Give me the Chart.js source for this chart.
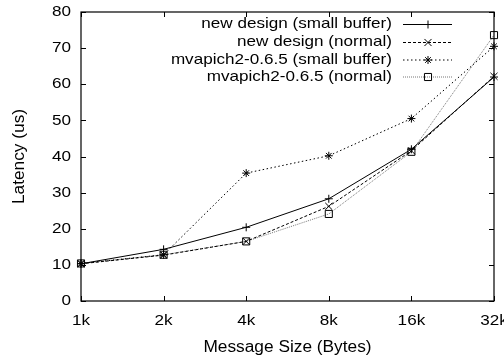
<!DOCTYPE html>
<html>
<head>
<meta charset="utf-8">
<script src="https://cdn.jsdelivr.net/npm/chart.js@4/dist/chart.umd.min.js"></script>
<style>
  html, body { margin: 0; padding: 0; background: #fff; }
  #wrap { width: 504px; height: 357px; }
</style>
</head>
<body>
<div id="wrap"><canvas id="c" width="504" height="357"></canvas></div>
<script>
// Message sizes on the x axis
const categories = ['1k', '2k', '4k', '8k', '16k', '32k'];
// Latency in microseconds for each configuration
const newSmall  = [10.3, 14.3, 20.4, 28.3, 42.0, 62.0];
const newNormal = [10.3, 12.7, 16.5, 26.2, 41.6, 62.2];
const mvaSmall  = [10.4, 12.8, 35.4, 40.2, 50.5, 70.5];
const mvaNormal = [10.4, 12.8, 16.5, 24.1, 41.3, 73.6];
const seriesNames = [
  'new design (small buffer)',
  'new design (normal)',
  'mvapich2-0.6.5 (small buffer)',
  'mvapich2-0.6.5 (normal)'
];
const yTicks = [0, 10, 20, 30, 40, 50, 60, 70, 80];
const xTitle = 'Message Size (Bytes)';
const yTitle = 'Latency (us)';

const FONT = '"Liberation Sans", Arial, Helvetica, sans-serif';

// Draws horizontally widened text, as in the original postscript output
function wideText(ctx, text, x, y, size, sx, align, baseline) {
  ctx.save();
  ctx.font = size + 'px ' + FONT;
  ctx.textBaseline = baseline;
  const w = ctx.measureText(text).width * sx;
  let left = x;
  if (align === 'right') left = x - w;
  else if (align === 'center') left = x - w / 2;
  ctx.translate(left, y);
  ctx.scale(sx, 1);
  ctx.textAlign = 'left';
  ctx.fillStyle = '#000';
  ctx.fillText(text, 0, 0);
  ctx.restore();
}

// Frame, inward ticks, labels, titles and key
const frame = {
  id: 'frame',
  afterDatasetsDraw(chart) {
    const ctx = chart.ctx;
    const a = chart.chartArea;
    const xs = chart.scales.x, ys = chart.scales.y;
    const tl = 5;
    ctx.save();
    ctx.strokeStyle = '#000';
    ctx.lineWidth = 1.2;
    ctx.setLineDash([]);
    ctx.strokeRect(a.left, a.top, a.right - a.left, a.bottom - a.top);
    ctx.lineWidth = 1;
    ctx.beginPath();
    categories.forEach((c, i) => {
      const px = Math.round(xs.getPixelForValue(i)) + 0.5;
      ctx.moveTo(px, a.bottom); ctx.lineTo(px, a.bottom - tl);
      ctx.moveTo(px, a.top); ctx.lineTo(px, a.top + tl);
    });
    yTicks.forEach(v => {
      const py = Math.round(ys.getPixelForValue(v)) + 0.5;
      ctx.moveTo(a.left, py); ctx.lineTo(a.left + tl, py);
      ctx.moveTo(a.right, py); ctx.lineTo(a.right - tl, py);
    });
    ctx.stroke();
    ctx.restore();

    yTicks.forEach(v => {
      wideText(ctx, String(v), a.left - 10, ys.getPixelForValue(v), 15, 1.14, 'right', 'middle');
    });
    categories.forEach((c, i) => {
      wideText(ctx, c, xs.getPixelForValue(i), a.bottom + 20, 15, 1.14, 'center', 'middle');
    });
    wideText(ctx, xTitle, (a.left + a.right) / 2, 351.5, 16, 1.08, 'center', 'alphabetic');
    ctx.save();
    ctx.translate(20, (a.top + a.bottom) / 2);
    ctx.rotate(-Math.PI / 2);
    wideText(ctx, yTitle, 0, 0, 16, 1.08, 'center', 'middle');
    ctx.restore();

    // key: text on the left, line sample with marker on the right
    const rows = [24, 42, 59.5, 76.5];
    chart.data.datasets.forEach((ds, i) => {
      const y = rows[i];
      wideText(ctx, ds.label, 392, y, 15, 1.14, 'right', 'middle');
      ctx.save();
      ctx.strokeStyle = ds.borderColor;
      ctx.lineWidth = ds.borderWidth;
      ctx.setLineDash(ds.borderDash || []);
      ctx.beginPath();
      ctx.moveTo(403, y + 0.5); ctx.lineTo(452, y + 0.5);
      ctx.stroke();
      ctx.setLineDash([]);
      ctx.strokeStyle = '#000';
      ctx.fillStyle = 'rgba(0,0,0,0)';
      ctx.lineWidth = 1;
      Chart.helpers.drawPoint(ctx, {
        pointStyle: ds.pointStyle, radius: ds.pointRadius, rotation: 0, borderWidth: 1
      }, 428, y + 0.5);
      ctx.restore();
    });
  }
};

function series(label, data, dash, style, radius, color) {
  return {
    label, data,
    borderColor: color, borderWidth: 1, borderDash: dash,
    pointStyle: style, pointRadius: radius,
    pointBorderColor: '#000', pointBackgroundColor: 'rgba(0,0,0,0)', pointBorderWidth: 1,
    fill: false, tension: 0, clip: 12
  };
}

new Chart(document.getElementById('c'), {
  type: 'line',
  data: {
    labels: categories,
    datasets: [
      series(seriesNames[0], newSmall, [], 'cross', 4, '#000'),
      series(seriesNames[1], newNormal, [3, 2], 'crossRot', 5, '#000'),
      series(seriesNames[2], mvaSmall, [1.5, 2.5], 'star', 4, '#000'),
      series(seriesNames[3], mvaNormal, [1, 1], 'rect', 5, '#777')
    ]
  },
  options: {
    responsive: false,
    animation: false,
    devicePixelRatio: 1,
    layout: { padding: { top: 12, right: 10, left: 0, bottom: 0 } },
    plugins: { legend: { display: false }, tooltip: { enabled: false } },
    scales: {
      x: {
        type: 'category', offset: false,
        grid: { display: false }, border: { display: false },
        ticks: { display: false },
        afterFit(s) { s.height = 56; s.paddingLeft = 0; s.paddingRight = 0; }
      },
      y: {
        min: 0, max: 80,
        grid: { display: false }, border: { display: false },
        ticks: { display: false, stepSize: 10 },
        afterFit(s) { s.width = 81; s.paddingTop = 0; s.paddingBottom = 0; }
      }
    }
  },
  plugins: [frame]
});
</script>
</body>
</html>
